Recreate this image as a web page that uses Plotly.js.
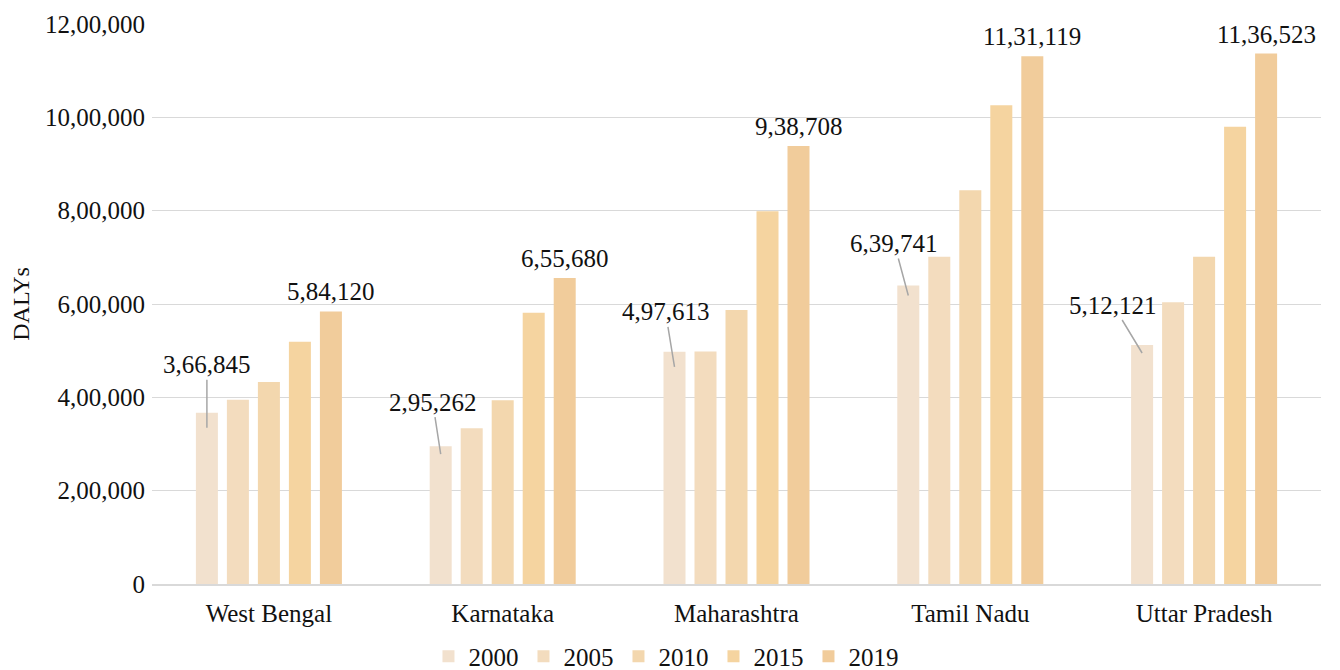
<!DOCTYPE html>
<html>
<head>
<meta charset="utf-8">
<script src="https://cdn.plot.ly/plotly-3.0.1.min.js"></script>
<style>
  html, body { margin: 0; padding: 0; background: #fff; }
  #chart { width: 1340px; height: 670px; }
</style>
</head>
<body>
<div id="chart"></div>
<script>
// ---- data ----
const categories = ["West Bengal", "Karnataka", "Maharashtra", "Tamil Nadu", "Uttar Pradesh"];
const years = ["2000", "2005", "2010", "2015", "2019"];
const y2000 = [366845, 295262, 497613, 639741, 512121];
const y2005 = [395000, 334000, 498000, 701000, 604000];
const y2010 = [433000, 394000, 587000, 844000, 701000];
const y2015 = [519000, 581000, 799000, 1026000, 980000];
const y2019 = [584120, 655680, 938708, 1131119, 1136523];
const yTickVals = [0, 200000, 400000, 600000, 800000, 1000000, 1200000];

// ---- styling ----
const colors = ["#F2E1CE", "#F3DCBE", "#F3D7AE", "#F5D4A0", "#F1CC9B"];
const FONT = "'Liberation Serif', 'Times New Roman', serif";
const BARGAP = 0.337, BARGROUPGAP = 0.29;
// label offsets (pixels) for the 2000 leader-line labels: [ax, ay, yshift]
const leaderOffsets = [[0, -63, -15], [-8, -52, -8], [-9, -55, -15], [-14, -52, -10], [-29, -48, -8]];

function indianFormat(n) {
  const s = String(Math.round(n));
  if (s.length <= 3) return s;
  const last3 = s.slice(-3);
  let rest = s.slice(0, -3);
  const parts = [];
  while (rest.length > 2) { parts.unshift(rest.slice(-2)); rest = rest.slice(0, -2); }
  if (rest.length) parts.unshift(rest);
  return parts.join(",") + "," + last3;
}

const series = [y2000, y2005, y2010, y2015, y2019];
const traces = series.map((vals, i) => ({
  type: "bar",
  name: years[i],
  x: categories,
  y: vals,
  marker: { color: colors[i] },
  hoverinfo: "skip"
}));

const slot = (1 - BARGAP) / series.length;
const firstOff = -((series.length - 1) / 2) * slot;
const lastOff = ((series.length - 1) / 2) * slot;

const annotations = [];
categories.forEach((c, i) => {
  const o = leaderOffsets[i];
  annotations.push({
    x: i + firstOff, y: y2000[i], xref: "x", yref: "y",
    text: indianFormat(y2000[i]),
    showarrow: true, arrowhead: 0, arrowwidth: 1.5, arrowcolor: "#a6a6a6",
    ax: o[0], ay: o[1], yshift: o[2], standoff: 0,
    font: { family: FONT, size: 25, color: "#111" }
  });
  annotations.push({
    x: i + lastOff, y: y2019[i], xref: "x", yref: "y",
    text: indianFormat(y2019[i]),
    showarrow: false, yanchor: "bottom", yshift: 4,
    font: { family: FONT, size: 25, color: "#111" }
  });
});

const layout = {
  width: 1340, height: 670,
  margin: { l: 152, r: 19, t: 24, b: 86, autoexpand: false },
  paper_bgcolor: "#fff", plot_bgcolor: "#fff",
  font: { family: FONT, size: 25, color: "#111" },
  barmode: "group", bargap: BARGAP, bargroupgap: BARGROUPGAP,
  showlegend: true,
  legend: {
    orientation: "h", xref: "container", yref: "container",
    x: 0.497, xanchor: "center", y: 0.02, yanchor: "middle",
    font: { family: FONT, size: 25, color: "#111" },
    itemclick: false, traceorder: "normal", itemwidth: 30
  },
  xaxis: {
    type: "category",
    showgrid: false, showline: true, linecolor: "#d9d9d9", linewidth: 1.5,
    ticks: "", tickfont: { family: FONT, size: 25, color: "#111" },
    ticklabelstandoff: 6, zeroline: false, automargin: false
  },
  yaxis: {
    range: [0, 1200000], autorange: false,
    tickvals: yTickVals, ticktext: yTickVals.map(indianFormat),
    showgrid: true, gridcolor: "#d9d9d9", gridwidth: 1,
    zeroline: false, showline: false, ticks: "",
    tickfont: { family: FONT, size: 25, color: "#111" },
    ticklabelstandoff: 6,
    title: { text: "DALYs", font: { family: FONT, size: 24, color: "#111" }, standoff: 8 },
    automargin: false
  },
  annotations: annotations
};

Plotly.newPlot("chart", traces, layout, { displayModeBar: false, staticPlot: true });
</script>
</body>
</html>
